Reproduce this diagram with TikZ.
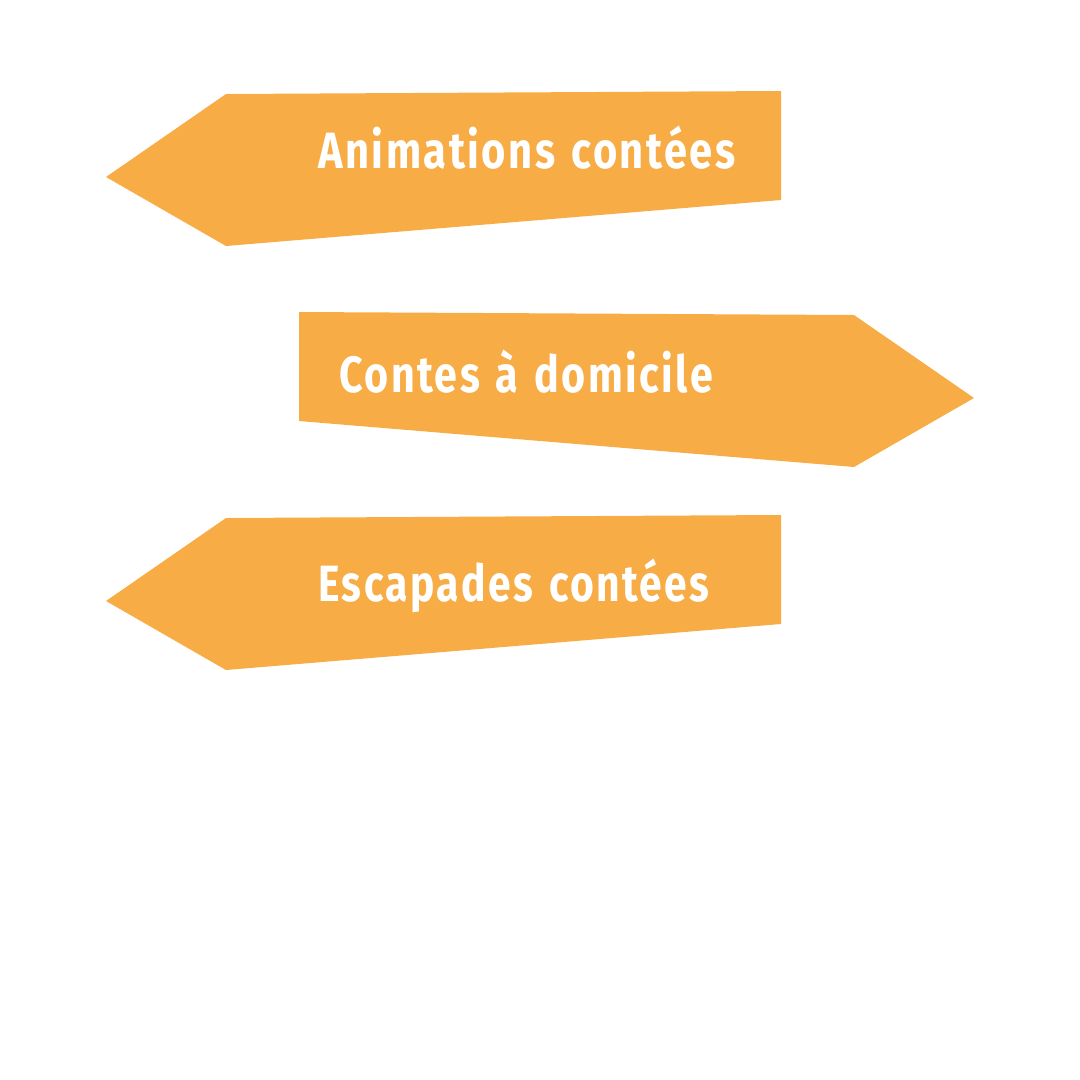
\documentclass[tikz,border=0pt]{standalone}
\usepackage{fontspec}
\setmainfont{Fira Sans}[WordSpace=1.3,LetterSpace=6]
\usepackage{xcolor}
\definecolor{panneau}{HTML}{F7AC45}
\newcommand{\etroit}[2]{\scalebox{#1}[1]{#2}}
\tikzset{
  etiquette/.style={text=white, font=\bfseries\fontsize{51pt}{51pt}\selectfont, anchor=base west, inner sep=0pt},
}
\begin{document}
\begin{tikzpicture}[x=1pt, y=-1pt]
  \useasboundingbox (0,0) rectangle (1080,1080);
  % panneaux
  \fill[panneau] (106,177) -- (226,94) -- (781,91) -- (781,200) -- (226,246) -- cycle;
  \fill[panneau] (299,312) -- (854,315) -- (974,398) -- (854,467) -- (299,421) -- cycle;
  \fill[panneau] (106,601) -- (226,518) -- (781,515) -- (781,624) -- (226,670) -- cycle;

  % textes
  \node[etiquette] (animations) at (318,168) {\etroit{0.817}{Animations contées}};
  \node[etiquette] (contes) at (339,392) {\etroit{0.808}{Contes à domicile}};
  \node[etiquette] (escapades) at (318,601) {\etroit{0.80}{Escapades contées}};
\end{tikzpicture}
\end{document}
